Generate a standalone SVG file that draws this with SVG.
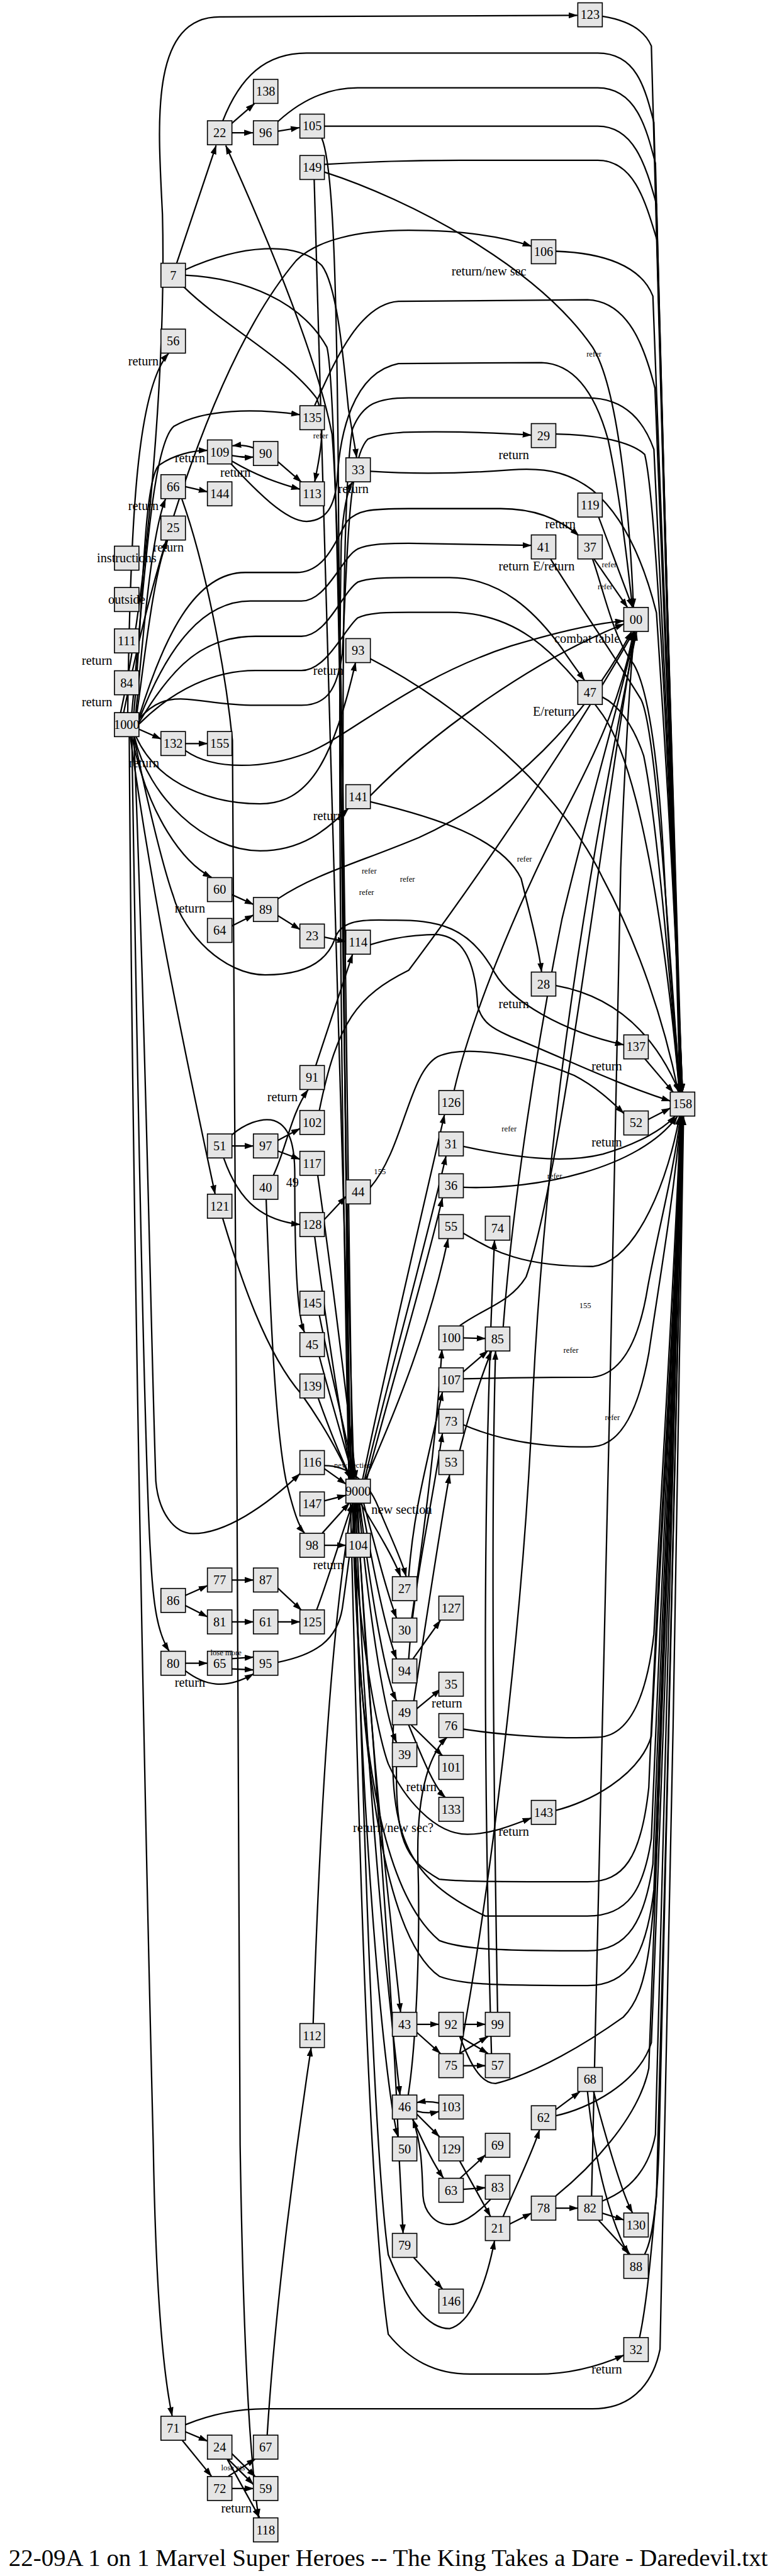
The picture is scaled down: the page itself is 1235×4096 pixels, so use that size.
<svg xmlns="http://www.w3.org/2000/svg" width="1235" height="4096" viewBox="0 0 1235 4096">
<defs>
<marker id="a" markerWidth="18" markerHeight="12" refX="17" refY="6" orient="auto" markerUnits="userSpaceOnUse"><path d="M0,0 L18,6 L0,12 z" fill="#000"/></marker>
<style>
.n rect{fill:#e5e5e5;stroke:#000;stroke-width:2}
.n text{font-family:"Liberation Serif",serif;font-size:25px;text-anchor:middle;fill:#000}
.e path{fill:none;stroke:#000;stroke-width:2.8;marker-end:url(#a)}
.l{font-family:"Liberation Serif",serif;font-size:25px;fill:#000}
.s{font-family:"Liberation Serif",serif;font-size:15.5px;fill:#000}
.t{font-family:"Liberation Serif",serif;font-size:47px;fill:#000}
</style>
</defs>
<rect width="1235" height="4096" fill="#fff"/>
<g transform="scale(0.812)">
<g id="edges" class="e">
<path d="M346 515 L423 285"/>
<path d="M452 243 L498 203"/>
<path d="M454 260 L495 260"/>
<path d="M544 257 L586 250"/>
<path d="M690 2896 C675 1900 670 1100 650 850 C620 700 530 480 442 285"/>
<path d="M236 1396 C290 1150 325 700 318 420 C310 250 290 33 430 33 L1130 30"/>
<path d="M436 237 C470 150 520 104 600 104 L1170 104 C1245 104 1262 170 1280 240 C1295 700 1318 1800 1332 2139"/>
<path d="M544 238 C580 205 630 172 700 172 L1170 172 C1245 172 1265 250 1283 320 C1298 800 1320 1800 1333 2139"/>
<path d="M635 247 L1170 247 C1240 247 1263 320 1285 400 C1300 900 1320 1800 1334 2139"/>
<path d="M635 322 C700 318 800 314 900 314 L1170 314 C1240 314 1262 390 1286 470 C1302 1000 1322 1800 1335 2139"/>
<path d="M1179 32 C1230 40 1262 60 1275 90 C1292 600 1318 1800 1331 2139"/>
<path d="M635 337 C800 390 1050 520 1160 680 C1210 760 1232 1000 1240 1189"/>
<path d="M630 271 C650 320 658 500 662 900 C668 1800 680 2500 693 2896"/>
<path d="M615 352 C628 700 655 1600 688 2896"/>
<path d="M1088 492 C1180 495 1255 520 1278 580 C1298 1000 1320 1800 1334 2139"/>
<path d="M242 1396 C300 1100 420 700 580 510 C620 470 700 451 800 451 C900 451 980 462 1040 482"/>
<path d="M616 794 C650 720 700 595 780 590 L1150 587 C1230 590 1262 680 1282 760 C1298 1100 1322 1800 1335 2139"/>
<path d="M686 2896 C672 2000 660 1000 690 840 C710 790 740 779 800 779 L1150 779 C1228 779 1262 830 1280 880 C1298 1200 1322 1800 1336 2139"/>
<path d="M452 908 C500 960 560 1021 600 1021 C640 1020 655 990 660 940 C665 850 690 730 780 712 L1060 710 C1125 712 1165 770 1190 860 C1212 960 1228 1100 1238 1189"/>
<path d="M363 528 C470 480 580 470 630 520 C660 560 672 700 682 800 C690 850 696 880 698 896"/>
<path d="M363 539 C480 545 590 590 640 680 C660 760 670 1500 683 2896"/>
<path d="M360 562 C440 640 560 700 620 780 C640 830 625 900 616 943"/>
<path d="M250 1396 C255 1000 270 760 330 692"/>
<path d="M258 1396 C285 1100 300 870 340 835 C400 800 500 800 587 812"/>
<path d="M262 1396 C280 1200 280 950 310 912 C340 890 380 882 406 882"/>
<path d="M266 1396 C280 1250 295 1050 324 977"/>
<path d="M268 1396 C282 1300 300 1120 328 1058"/>
<path d="M363 953 L406 963"/>
<path d="M356 977 C400 1100 440 1300 455 1450 C465 1700 462 3500 470 4200 C478 4700 495 4850 506 4930"/>
<path d="M496 877 C482 872 470 871 455 873"/>
<path d="M454 892 C470 895 482 896 496 895"/>
<path d="M544 904 L590 944"/>
<path d="M454 903 C500 930 540 945 587 958"/>
<path d="M272 1408 C330 1340 380 1381 500 1381 L590 1381 C640 1381 660 1350 670 1280 C680 1100 680 900 720 860 C750 845 800 845 900 846 C980 848 1010 850 1040 852"/>
<path d="M272 1404 C320 1250 380 1121 480 1121 L580 1121 C640 1121 660 1050 680 1020 C700 1000 720 996 800 996 L980 996 C1050 996 1100 1020 1133 1049"/>
<path d="M272 1410 C330 1260 400 1177 490 1177 L590 1177 C640 1177 670 1090 700 1075 C720 1066 750 1064 800 1064 L1040 1068"/>
<path d="M272 1415 C340 1300 400 1246 500 1246 L590 1246 C640 1246 670 1160 700 1140 C720 1132 750 1131 800 1131 L880 1131 C980 1131 1050 1200 1100 1270 C1120 1300 1135 1320 1144 1332"/>
<path d="M272 1418 C340 1350 420 1313 500 1313 L590 1313 C640 1313 675 1230 700 1210 C720 1200 750 1199 800 1199 L880 1199 C1000 1199 1080 1260 1180 1400 C1250 1500 1300 1800 1330 2139"/>
<path d="M725 923 C800 928 900 928 1000 920 C1080 914 1120 930 1160 960 C1220 1010 1260 1100 1285 1200 C1305 1500 1322 1800 1336 2139"/>
<path d="M1088 850 C1150 851 1230 860 1262 890 C1290 1000 1320 1800 1336 2139"/>
<path d="M683 2896 C670 2300 660 1500 668 1060 C672 1000 680 960 690 944"/>
<path d="M272 1428 L315 1447"/>
<path d="M363 1456 L406 1456"/>
<path d="M363 1470 C420 1510 520 1505 600 1475 C680 1445 800 1330 1000 1265 C1100 1235 1170 1220 1221 1216"/>
<path d="M725 1558 C850 1430 1050 1290 1221 1222"/>
<path d="M725 1290 C900 1380 1100 1550 1180 1720 C1250 1850 1300 2000 1328 2139"/>
<path d="M725 1570 C850 1600 980 1640 1020 1720 C1040 1800 1055 1860 1060 1903"/>
<path d="M266 1442 C310 1540 420 1574 509 1574 C600 1574 650 1500 696 1297"/>
<path d="M263 1442 C290 1560 400 1666 509 1666 C590 1666 640 1625 682 1583"/>
<path d="M635 1835 L677 1844"/>
<path d="M454 1752 L496 1771"/>
<path d="M454 1813 L496 1792"/>
<path d="M544 1793 L587 1820"/>
<path d="M544 1760 C620 1710 700 1690 820 1640 C1000 1560 1150 1400 1236 1237"/>
<path d="M258 1442 C290 1600 360 1690 414 1718"/>
<path d="M255 1442 C290 1700 340 1960 421 2338"/>
<path d="M262 1442 C290 1580 320 1700 339 1754 C360 1830 440 1909 519 1909 C600 1909 640 1880 655 1840 C665 1805 700 1800 760 1802 C860 1800 920 1815 969 1906 C1000 1960 1100 2020 1221 2046"/>
<path d="M725 1850 C740 1845 790 1830 857 1830 C900 1835 930 1870 935 1970 C945 2010 980 2020 1000 2030 C1100 2070 1200 2120 1312 2156"/>
<path d="M725 2325 C790 2250 800 2100 857 2069 C900 2050 1000 2055 1124 2106 C1170 2130 1200 2160 1221 2180"/>
<path d="M454 2244 L496 2244"/>
<path d="M544 2233 L587 2210"/>
<path d="M544 2254 L587 2270"/>
<path d="M438 2268 C470 2360 520 2390 587 2398"/>
<path d="M535 2302 C560 2250 570 2180 603 2134"/>
<path d="M618 2087 L690 1869"/>
<path d="M635 2388 L677 2343"/>
<path d="M454 2222 C480 2200 510 2190 530 2193 C570 2200 577 2250 577 2300 C577 2450 580 2570 596 2609"/>
<path d="M625 2175 C660 2000 700 1950 800 1900 C950 1700 1150 1400 1240 1237"/>
<path d="M436 2386 C470 2500 520 2650 590 2730 C640 2800 670 2860 686 2896"/>
<path d="M521 2349 C530 2600 540 2800 560 2900 C575 2960 585 2990 596 3002"/>
<path d="M616 2422 C640 2600 670 2800 690 2896"/>
<path d="M622 2302 C650 2500 680 2750 697 2896"/>
<path d="M625 2575 C650 2700 680 2820 694 2896"/>
<path d="M625 2656 C650 2750 680 2850 692 2896"/>
<path d="M623 2738 C645 2800 670 2860 688 2896"/>
<path d="M635 2876 L677 2906"/>
<path d="M635 2939 L677 2928"/>
<path d="M631 3002 L684 2943"/>
<path d="M635 3026 L677 3026"/>
<path d="M620 3152 C640 3100 670 3000 690 2944"/>
<path d="M544 3255 C620 3240 660 3210 670 3150 C680 3080 690 3000 697 2944"/>
<path d="M544 3110 L590 3153"/>
<path d="M544 3176 L587 3176"/>
<path d="M454 3176 L496 3176"/>
<path d="M454 3094 L496 3094"/>
<path d="M363 3124 L406 3105"/>
<path d="M363 3144 L406 3166"/>
<path d="M363 3257 L406 3257"/>
<path d="M454 3248 L496 3245"/>
<path d="M454 3268 L496 3270"/>
<path d="M363 3272 C400 3300 440 3310 496 3278"/>
<path d="M262 1442 C285 2000 295 2600 305 2900 C310 2960 340 3003 378 3003 C440 3003 520 2950 587 2886"/>
<path d="M258 1442 C270 2200 285 2900 295 3050 C300 3150 310 3200 331 3233"/>
<path d="M253 1442 C260 2500 290 3800 300 4200 C305 4500 320 4650 337 4731"/>
<path d="M690 2944 C700 3200 740 3400 760 3454 C790 3520 850 3592 915 3592 C960 3592 1000 3575 1040 3560"/>
<path d="M686 2944 C700 3500 720 4300 760 4571 C800 4620 850 4649 920 4649 L1051 4649 C1120 4649 1180 4630 1221 4612"/>
<path d="M693 2944 C710 3500 730 4200 760 4415 C790 4490 830 4560 880 4560 C920 4550 950 4480 968 4388"/>
<path d="M810 4421 L866 4482"/>
<path d="M698 2944 C720 3300 770 3900 780 4200 C785 4300 788 4350 789 4373"/>
<path d="M706 2944 C740 3000 770 3050 784 3087"/>
<path d="M635 2870 C680 2870 720 2900 740 2950 C760 3000 785 3050 795 3087"/>
<path d="M712 2944 C740 3050 758 3120 776 3168"/>
<path d="M708 2944 C735 3100 758 3200 776 3248"/>
<path d="M704 2944 C730 3150 756 3290 776 3330"/>
<path d="M702 2944 C726 3200 755 3360 776 3412"/>
<path d="M700 2944 C720 3400 770 3800 784 3940"/>
<path d="M696 2944 C715 3500 765 3950 783 4102"/>
<path d="M694 2944 C705 3600 755 4100 779 4184"/>
<path d="M816 3964 L859 3964"/>
<path d="M907 3964 L950 3964"/>
<path d="M816 3980 L862 4021"/>
<path d="M900 3988 L955 4021"/>
<path d="M907 4045 L950 4045"/>
<path d="M900 4021 L955 3988"/>
<path d="M859 4118 C845 4115 830 4115 816 4117"/>
<path d="M816 4134 C830 4138 845 4138 859 4135"/>
<path d="M816 4140 L860 4184"/>
<path d="M808 4150 C830 4200 850 4240 868 4265"/>
<path d="M900 4266 L950 4220"/>
<path d="M907 4287 L950 4284"/>
<path d="M900 4232 L960 4340"/>
<path d="M960 4307 C930 4340 900 4356 880 4356 C850 4356 830 4330 828 4300 C826 4250 826 4200 808 4150"/>
<path d="M998 4355 L1040 4334"/>
<path d="M1088 4324 L1131 4324"/>
<path d="M1179 4334 L1221 4347"/>
<path d="M1172 4348 L1233 4414"/>
<path d="M1162 4096 C1190 4200 1220 4300 1238 4333"/>
<path d="M1150 4096 C1165 4250 1200 4360 1230 4414"/>
<path d="M1088 4131 L1135 4096"/>
<path d="M985 4340 C1010 4280 1040 4220 1056 4171"/>
<path d="M1088 4143 C1150 4130 1250 4080 1275 4000 C1295 3500 1320 2800 1334 2186"/>
<path d="M1088 4300 C1150 4250 1250 4150 1270 4050 C1292 3500 1318 2800 1333 2186"/>
<path d="M1179 4310 C1230 4290 1270 4250 1283 4180 C1300 3500 1322 2800 1335 2186"/>
<path d="M1262 4414 C1280 4380 1287 4300 1290 4200 C1305 3500 1325 2800 1337 2186"/>
<path d="M1252 4577 C1268 4500 1275 4400 1285 4300 C1303 3600 1325 2800 1337 2186"/>
<path d="M363 4748 C420 4725 470 4717 520 4717 L1160 4717 C1250 4717 1282 4650 1292 4600 C1310 4000 1326 2800 1338 2186"/>
<path d="M1158 4300 C1170 3800 1200 2500 1215 1700 C1222 1500 1235 1300 1242 1237"/>
<path d="M363 4762 L406 4780"/>
<path d="M357 4779 L414 4849"/>
<path d="M454 4805 L500 4850"/>
<path d="M447 4816 L496 4865"/>
<path d="M454 4873 L496 4873"/>
<path d="M447 4849 L500 4815"/>
<path d="M445 4816 L508 4930"/>
<path d="M523 4768 C540 4500 580 4200 609 4010"/>
<path d="M613 3962 C625 3600 645 3200 690 2944"/>
<path d="M799 4103 C815 4000 823 3800 818 3644 C815 3500 845 3430 875 3402"/>
<path d="M808 3249 L862 3173"/>
<path d="M816 3346 L862 3308"/>
<path d="M805 3378 L866 3438"/>
<path d="M800 3378 C830 3450 850 3500 872 3520"/>
<path d="M810 3331 C830 3200 860 3000 880 2888"/>
<path d="M806 3168 C830 3000 855 2800 865 2643"/>
<path d="M800 3087 C810 2950 840 2850 866 2726"/>
<path d="M800 3248 C810 3100 845 2950 866 2807"/>
<path d="M710 2896 C750 2700 820 2400 870 2183"/>
<path d="M714 2896 C760 2700 830 2450 873 2264"/>
<path d="M718 2896 C770 2700 830 2500 866 2346"/>
<path d="M716 2896 C780 2750 840 2600 877 2426"/>
<path d="M962 4021 C950 3600 940 3000 968 2429"/>
<path d="M889 2135 C920 2000 1000 1800 1100 1600 C1180 1450 1220 1350 1240 1237"/>
<path d="M985 2598 C1000 2400 1040 2100 1100 1800 C1160 1550 1220 1350 1243 1237"/>
<path d="M900 4021 C960 3700 1020 3200 1040 2800 C1060 2300 1130 1800 1246 1237"/>
<path d="M907 2620 L950 2621"/>
<path d="M905 2688 L955 2645"/>
<path d="M900 2840 C915 2780 940 2700 962 2646"/>
<path d="M974 3940 C968 3600 960 3000 970 2646"/>
<path d="M900 2596 C950 2560 1000 2550 1030 2500 C1100 2300 1180 1600 1243 1237"/>
<path d="M900 3988 C920 4040 940 4080 970 4080 C1050 4060 1150 4000 1220 3950 C1270 3900 1280 3800 1290 3500 C1305 3000 1325 2600 1334 2186"/>
<path d="M1088 3545 C1150 3530 1250 3480 1275 3400 C1295 3000 1320 2600 1333 2186"/>
<path d="M907 3386 C1000 3400 1100 3405 1170 3402 C1230 3400 1265 3330 1280 3200 C1300 2800 1320 2500 1332 2186"/>
<path d="M776 3459 C775 3600 790 3640 860 3680 C900 3685 1000 3685 1150 3685 C1220 3685 1255 3640 1270 3500 C1290 3000 1320 2600 1333 2186"/>
<path d="M770 3378 C760 3600 800 3680 950 3752 L1150 3752 C1230 3752 1260 3700 1275 3600 C1295 3100 1320 2600 1334 2186"/>
<path d="M690 2944 C700 3400 740 3700 860 3800 C900 3815 950 3820 1150 3820 C1230 3820 1262 3760 1278 3650 C1296 3100 1320 2600 1335 2186"/>
<path d="M690 2944 C705 3500 760 3800 860 3870 C900 3885 950 3888 1150 3888 C1230 3888 1265 3830 1280 3700 C1298 3200 1322 2600 1336 2186"/>
<path d="M907 2700 C1000 2698 1100 2697 1160 2697 C1220 2690 1252 2620 1268 2520 C1290 2400 1318 2300 1332 2186"/>
<path d="M907 2790 C1000 2830 1100 2835 1160 2833 C1220 2830 1252 2750 1270 2650 C1292 2500 1318 2350 1333 2186"/>
<path d="M907 2245 C1000 2265 1100 2280 1180 2260 C1250 2240 1300 2210 1322 2185"/>
<path d="M907 2325 C1050 2330 1250 2290 1326 2186"/>
<path d="M907 2415 C960 2445 1010 2480 1160 2480 C1250 2470 1310 2300 1330 2186"/>
<path d="M1088 1930 C1200 1950 1280 2020 1330 2139"/>
<path d="M1262 2073 L1318 2139"/>
<path d="M1269 2192 L1312 2170"/>
<path d="M1163 1095 L1228 1189"/>
<path d="M1160 1095 C1180 1150 1200 1250 1240 1300 C1270 1350 1290 1500 1300 1700 C1310 1900 1325 2050 1332 2139"/>
<path d="M1172 1013 L1238 1189"/>
<path d="M1078 1095 C1130 1180 1200 1280 1255 1370 C1280 1420 1300 1700 1331 2139"/>
<path d="M1179 1365 C1210 1380 1240 1420 1260 1480 C1285 1600 1310 1900 1330 2139"/>
</g>
<g id="nodes">
<g id="n123" class="n"><rect x="1131" y="5.5" width="48" height="47"/><text x="1155" y="37.5">123</text></g>
<g id="n138" class="n"><rect x="496" y="155.5" width="48" height="47"/><text x="520" y="187.5">138</text></g>
<g id="n22" class="n"><rect x="406" y="236.5" width="48" height="47"/><text x="430" y="268.5">22</text></g>
<g id="n96" class="n"><rect x="496" y="236.5" width="48" height="47"/><text x="520" y="268.5">96</text></g>
<g id="n105" class="n"><rect x="587" y="223.5" width="48" height="47"/><text x="611" y="255.5">105</text></g>
<g id="n149" class="n"><rect x="587" y="304.5" width="48" height="47"/><text x="611" y="336.5">149</text></g>
<g id="n106" class="n"><rect x="1040" y="469.5" width="48" height="47"/><text x="1064" y="501.5">106</text></g>
<g id="n7" class="n"><rect x="315" y="515.5" width="48" height="47"/><text x="339" y="547.5">7</text></g>
<g id="n56" class="n"><rect x="315" y="644.5" width="48" height="47"/><text x="339" y="676.5">56</text></g>
<g id="n135" class="n"><rect x="587" y="794.5" width="48" height="47"/><text x="611" y="826.5">135</text></g>
<g id="n29" class="n"><rect x="1040" y="829.5" width="48" height="47"/><text x="1064" y="861.5">29</text></g>
<g id="n109" class="n"><rect x="406" y="861.5" width="48" height="47"/><text x="430" y="893.5">109</text></g>
<g id="n90" class="n"><rect x="496" y="864.5" width="48" height="47"/><text x="520" y="896.5">90</text></g>
<g id="n33" class="n"><rect x="677" y="896.5" width="48" height="47"/><text x="701" y="928.5">33</text></g>
<g id="n66" class="n"><rect x="315" y="929.5" width="48" height="47"/><text x="339" y="961.5">66</text></g>
<g id="n144" class="n"><rect x="406" y="943.5" width="48" height="47"/><text x="430" y="975.5">144</text></g>
<g id="n113" class="n"><rect x="587" y="943.5" width="48" height="47"/><text x="611" y="975.5">113</text></g>
<g id="n119" class="n"><rect x="1131" y="965.5" width="48" height="47"/><text x="1155" y="997.5">119</text></g>
<g id="n25" class="n"><rect x="315" y="1010.5" width="48" height="47"/><text x="339" y="1042.5">25</text></g>
<g id="n37" class="n"><rect x="1131" y="1047.5" width="48" height="47"/><text x="1155" y="1079.5">37</text></g>
<g id="n41" class="n"><rect x="1040" y="1047.5" width="48" height="47"/><text x="1064" y="1079.5">41</text></g>
<g id="ninstructions" class="n"><rect x="224" y="1069.5" width="48" height="47"/><text x="248" y="1101.5">instructions</text></g>
<g id="noutside" class="n"><rect x="224" y="1150.5" width="48" height="47"/><text x="248" y="1182.5">outside</text></g>
<g id="n00" class="n"><rect x="1221" y="1189.5" width="48" height="47"/><text x="1245" y="1221.5">00</text></g>
<g id="n111" class="n"><rect x="224" y="1231.5" width="48" height="47"/><text x="248" y="1263.5">111</text></g>
<g id="n93" class="n"><rect x="677" y="1250.5" width="48" height="47"/><text x="701" y="1282.5">93</text></g>
<g id="n84" class="n"><rect x="224" y="1313.5" width="48" height="47"/><text x="248" y="1345.5">84</text></g>
<g id="n47" class="n"><rect x="1131" y="1332.5" width="48" height="47"/><text x="1155" y="1364.5">47</text></g>
<g id="n1000" class="n"><rect x="224" y="1395.5" width="48" height="47"/><text x="248" y="1427.5">1000</text></g>
<g id="n132" class="n"><rect x="315" y="1432.5" width="48" height="47"/><text x="339" y="1464.5">132</text></g>
<g id="n155" class="n"><rect x="406" y="1432.5" width="48" height="47"/><text x="430" y="1464.5">155</text></g>
<g id="n141" class="n"><rect x="677" y="1536.5" width="48" height="47"/><text x="701" y="1568.5">141</text></g>
<g id="n60" class="n"><rect x="406" y="1718.5" width="48" height="47"/><text x="430" y="1750.5">60</text></g>
<g id="n89" class="n"><rect x="496" y="1757.5" width="48" height="47"/><text x="520" y="1789.5">89</text></g>
<g id="n64" class="n"><rect x="406" y="1798.5" width="48" height="47"/><text x="430" y="1830.5">64</text></g>
<g id="n23" class="n"><rect x="587" y="1809.5" width="48" height="47"/><text x="611" y="1841.5">23</text></g>
<g id="n114" class="n"><rect x="677" y="1821.5" width="48" height="47"/><text x="701" y="1853.5">114</text></g>
<g id="n28" class="n"><rect x="1040" y="1903.5" width="48" height="47"/><text x="1064" y="1935.5">28</text></g>
<g id="n137" class="n"><rect x="1221" y="2026.5" width="48" height="47"/><text x="1245" y="2058.5">137</text></g>
<g id="n91" class="n"><rect x="587" y="2086.5" width="48" height="47"/><text x="611" y="2118.5">91</text></g>
<g id="n126" class="n"><rect x="859" y="2135.5" width="48" height="47"/><text x="883" y="2167.5">126</text></g>
<g id="n158" class="n"><rect x="1312" y="2138.5" width="48" height="47"/><text x="1336" y="2170.5">158</text></g>
<g id="n102" class="n"><rect x="587" y="2174.5" width="48" height="47"/><text x="611" y="2206.5">102</text></g>
<g id="n52" class="n"><rect x="1221" y="2175.5" width="48" height="47"/><text x="1245" y="2207.5">52</text></g>
<g id="n31" class="n"><rect x="859" y="2216.5" width="48" height="47"/><text x="883" y="2248.5">31</text></g>
<g id="n51" class="n"><rect x="406" y="2220.5" width="48" height="47"/><text x="430" y="2252.5">51</text></g>
<g id="n97" class="n"><rect x="496" y="2220.5" width="48" height="47"/><text x="520" y="2252.5">97</text></g>
<g id="n117" class="n"><rect x="587" y="2254.5" width="48" height="47"/><text x="611" y="2286.5">117</text></g>
<g id="n36" class="n"><rect x="859" y="2298.5" width="48" height="47"/><text x="883" y="2330.5">36</text></g>
<g id="n40" class="n"><rect x="496" y="2301.5" width="48" height="47"/><text x="520" y="2333.5">40</text></g>
<g id="n44" class="n"><rect x="677" y="2310.5" width="48" height="47"/><text x="701" y="2342.5">44</text></g>
<g id="n121" class="n"><rect x="406" y="2338.5" width="48" height="47"/><text x="430" y="2370.5">121</text></g>
<g id="n128" class="n"><rect x="587" y="2374.5" width="48" height="47"/><text x="611" y="2406.5">128</text></g>
<g id="n55" class="n"><rect x="859" y="2378.5" width="48" height="47"/><text x="883" y="2410.5">55</text></g>
<g id="n74" class="n"><rect x="950" y="2381.5" width="48" height="47"/><text x="974" y="2413.5">74</text></g>
<g id="n145" class="n"><rect x="587" y="2528.5" width="48" height="47"/><text x="611" y="2560.5">145</text></g>
<g id="n100" class="n"><rect x="859" y="2596.5" width="48" height="47"/><text x="883" y="2628.5">100</text></g>
<g id="n85" class="n"><rect x="950" y="2598.5" width="48" height="47"/><text x="974" y="2630.5">85</text></g>
<g id="n45" class="n"><rect x="587" y="2609.5" width="48" height="47"/><text x="611" y="2641.5">45</text></g>
<g id="n107" class="n"><rect x="859" y="2678.5" width="48" height="47"/><text x="883" y="2710.5">107</text></g>
<g id="n139" class="n"><rect x="587" y="2690.5" width="48" height="47"/><text x="611" y="2722.5">139</text></g>
<g id="n73" class="n"><rect x="859" y="2759.5" width="48" height="47"/><text x="883" y="2791.5">73</text></g>
<g id="n116" class="n"><rect x="587" y="2840.5" width="48" height="47"/><text x="611" y="2872.5">116</text></g>
<g id="n53" class="n"><rect x="859" y="2840.5" width="48" height="47"/><text x="883" y="2872.5">53</text></g>
<g id="n9000" class="n"><rect x="677" y="2896.5" width="48" height="47"/><text x="701" y="2928.5">9000</text></g>
<g id="n147" class="n"><rect x="587" y="2921.5" width="48" height="47"/><text x="611" y="2953.5">147</text></g>
<g id="n98" class="n"><rect x="587" y="3002.5" width="48" height="47"/><text x="611" y="3034.5">98</text></g>
<g id="n104" class="n"><rect x="677" y="3002.5" width="48" height="47"/><text x="701" y="3034.5">104</text></g>
<g id="n77" class="n"><rect x="406" y="3070.5" width="48" height="47"/><text x="430" y="3102.5">77</text></g>
<g id="n87" class="n"><rect x="496" y="3070.5" width="48" height="47"/><text x="520" y="3102.5">87</text></g>
<g id="n27" class="n"><rect x="768" y="3087.5" width="48" height="47"/><text x="792" y="3119.5">27</text></g>
<g id="n86" class="n"><rect x="315" y="3110.5" width="48" height="47"/><text x="339" y="3142.5">86</text></g>
<g id="n127" class="n"><rect x="859" y="3125.5" width="48" height="47"/><text x="883" y="3157.5">127</text></g>
<g id="n81" class="n"><rect x="406" y="3152.5" width="48" height="47"/><text x="430" y="3184.5">81</text></g>
<g id="n61" class="n"><rect x="496" y="3152.5" width="48" height="47"/><text x="520" y="3184.5">61</text></g>
<g id="n125" class="n"><rect x="587" y="3152.5" width="48" height="47"/><text x="611" y="3184.5">125</text></g>
<g id="n30" class="n"><rect x="768" y="3168.5" width="48" height="47"/><text x="792" y="3200.5">30</text></g>
<g id="n80" class="n"><rect x="315" y="3233.5" width="48" height="47"/><text x="339" y="3265.5">80</text></g>
<g id="n65" class="n"><rect x="406" y="3233.5" width="48" height="47"/><text x="430" y="3265.5">65</text></g>
<g id="n95" class="n"><rect x="496" y="3233.5" width="48" height="47"/><text x="520" y="3265.5">95</text></g>
<g id="n94" class="n"><rect x="768" y="3248.5" width="48" height="47"/><text x="792" y="3280.5">94</text></g>
<g id="n35" class="n"><rect x="859" y="3274.5" width="48" height="47"/><text x="883" y="3306.5">35</text></g>
<g id="n49" class="n"><rect x="768" y="3330.5" width="48" height="47"/><text x="792" y="3362.5">49</text></g>
<g id="n76" class="n"><rect x="859" y="3355.5" width="48" height="47"/><text x="883" y="3387.5">76</text></g>
<g id="n39" class="n"><rect x="768" y="3412.5" width="48" height="47"/><text x="792" y="3444.5">39</text></g>
<g id="n101" class="n"><rect x="859" y="3437.5" width="48" height="47"/><text x="883" y="3469.5">101</text></g>
<g id="n133" class="n"><rect x="859" y="3519.5" width="48" height="47"/><text x="883" y="3551.5">133</text></g>
<g id="n143" class="n"><rect x="1040" y="3525.5" width="48" height="47"/><text x="1064" y="3557.5">143</text></g>
<g id="n43" class="n"><rect x="768" y="3940.5" width="48" height="47"/><text x="792" y="3972.5">43</text></g>
<g id="n92" class="n"><rect x="859" y="3940.5" width="48" height="47"/><text x="883" y="3972.5">92</text></g>
<g id="n99" class="n"><rect x="950" y="3940.5" width="48" height="47"/><text x="974" y="3972.5">99</text></g>
<g id="n112" class="n"><rect x="587" y="3962.5" width="48" height="47"/><text x="611" y="3994.5">112</text></g>
<g id="n75" class="n"><rect x="859" y="4021.5" width="48" height="47"/><text x="883" y="4053.5">75</text></g>
<g id="n57" class="n"><rect x="950" y="4021.5" width="48" height="47"/><text x="974" y="4053.5">57</text></g>
<g id="n68" class="n"><rect x="1131" y="4048.5" width="48" height="47"/><text x="1155" y="4080.5">68</text></g>
<g id="n46" class="n"><rect x="768" y="4102.5" width="48" height="47"/><text x="792" y="4134.5">46</text></g>
<g id="n103" class="n"><rect x="859" y="4102.5" width="48" height="47"/><text x="883" y="4134.5">103</text></g>
<g id="n62" class="n"><rect x="1040" y="4123.5" width="48" height="47"/><text x="1064" y="4155.5">62</text></g>
<g id="n69" class="n"><rect x="950" y="4177.5" width="48" height="47"/><text x="974" y="4209.5">69</text></g>
<g id="n50" class="n"><rect x="768" y="4184.5" width="48" height="47"/><text x="792" y="4216.5">50</text></g>
<g id="n129" class="n"><rect x="859" y="4184.5" width="48" height="47"/><text x="883" y="4216.5">129</text></g>
<g id="n83" class="n"><rect x="950" y="4259.5" width="48" height="47"/><text x="974" y="4291.5">83</text></g>
<g id="n63" class="n"><rect x="859" y="4265.5" width="48" height="47"/><text x="883" y="4297.5">63</text></g>
<g id="n78" class="n"><rect x="1040" y="4300.5" width="48" height="47"/><text x="1064" y="4332.5">78</text></g>
<g id="n82" class="n"><rect x="1131" y="4300.5" width="48" height="47"/><text x="1155" y="4332.5">82</text></g>
<g id="n130" class="n"><rect x="1221" y="4333.5" width="48" height="47"/><text x="1245" y="4365.5">130</text></g>
<g id="n21" class="n"><rect x="950" y="4340.5" width="48" height="47"/><text x="974" y="4372.5">21</text></g>
<g id="n79" class="n"><rect x="768" y="4373.5" width="48" height="47"/><text x="792" y="4405.5">79</text></g>
<g id="n88" class="n"><rect x="1221" y="4414.5" width="48" height="47"/><text x="1245" y="4446.5">88</text></g>
<g id="n146" class="n"><rect x="859" y="4482.5" width="48" height="47"/><text x="883" y="4514.5">146</text></g>
<g id="n32" class="n"><rect x="1221" y="4577.5" width="48" height="47"/><text x="1245" y="4609.5">32</text></g>
<g id="n71" class="n"><rect x="315" y="4731.5" width="48" height="47"/><text x="339" y="4763.5">71</text></g>
<g id="n24" class="n"><rect x="406" y="4768.5" width="48" height="47"/><text x="430" y="4800.5">24</text></g>
<g id="n67" class="n"><rect x="496" y="4768.5" width="48" height="47"/><text x="520" y="4800.5">67</text></g>
<g id="n72" class="n"><rect x="406" y="4849.5" width="48" height="47"/><text x="430" y="4881.5">72</text></g>
<g id="n59" class="n"><rect x="496" y="4849.5" width="48" height="47"/><text x="520" y="4881.5">59</text></g>
<g id="n118" class="n"><rect x="496" y="4930.5" width="48" height="47"/><text x="520" y="4962.5">118</text></g>
</g>
<g id="labels">
<text class="l" x="251" y="715">return</text>
<text class="l" x="884" y="539">return/new sec</text>
<text class="s" x="1148" y="698">refer</text>
<text class="s" x="613" y="859">refer</text>
<text class="l" x="342" y="905">return</text>
<text class="l" x="431" y="934">return</text>
<text class="l" x="662" y="966">return</text>
<text class="l" x="251" y="999">return</text>
<text class="l" x="300" y="1080">return</text>
<text class="l" x="160" y="1302">return</text>
<text class="l" x="160" y="1383">return</text>
<text class="l" x="613" y="1321">return</text>
<text class="l" x="252" y="1502">return</text>
<text class="l" x="613" y="1606">return</text>
<text class="l" x="976" y="899">return</text>
<text class="l" x="1067" y="1034">return</text>
<text class="l" x="976" y="1117">return</text>
<text class="l" x="1043" y="1117">E/return</text>
<text class="s" x="1178" y="1111">refer</text>
<text class="s" x="1170" y="1154">refer</text>
<text class="l" x="1085" y="1259">combat table</text>
<text class="l" x="1043" y="1402">E/return</text>
<text class="s" x="1012" y="1687">refer</text>
<text class="s" x="708" y="1710">refer</text>
<text class="s" x="703" y="1753">refer</text>
<text class="s" x="783" y="1727">refer</text>
<text class="l" x="342" y="1787">return</text>
<text class="l" x="976" y="1974">return</text>
<text class="l" x="1158" y="2096">return</text>
<text class="l" x="1158" y="2245">return</text>
<text class="s" x="982" y="2215">refer</text>
<text class="s" x="1071" y="2308">refer</text>
<text class="l" x="523" y="2157">return</text>
<text class="l" x="560" y="2324">49</text>
<text class="s" x="732" y="2299">155</text>
<text class="s" x="1134" y="2561">155</text>
<text class="s" x="1103" y="2649">refer</text>
<text class="s" x="1184" y="2781">refer</text>
<text class="s" x="654" y="2874">new section</text>
<text class="l" x="727" y="2964">new section</text>
<text class="l" x="613" y="3073">return</text>
<text class="s" x="412" y="3241">lose more</text>
<text class="l" x="342" y="3303">return</text>
<text class="l" x="845" y="3344">return</text>
<text class="l" x="795" y="3507">return</text>
<text class="l" x="691" y="3588">return/new sec?</text>
<text class="l" x="976" y="3595">return</text>
<text class="s" x="433" y="4838">lose pts</text>
<text class="l" x="433" y="4920">return</text>
<text class="l" x="1158" y="4648">return</text>
<text class="t" x="17" y="5025" textLength="1486" lengthAdjust="spacingAndGlyphs">22-09A 1 on 1 Marvel Super Heroes -- The King Takes a Dare - Daredevil.txt</text>
</g>
</g>
</svg>
